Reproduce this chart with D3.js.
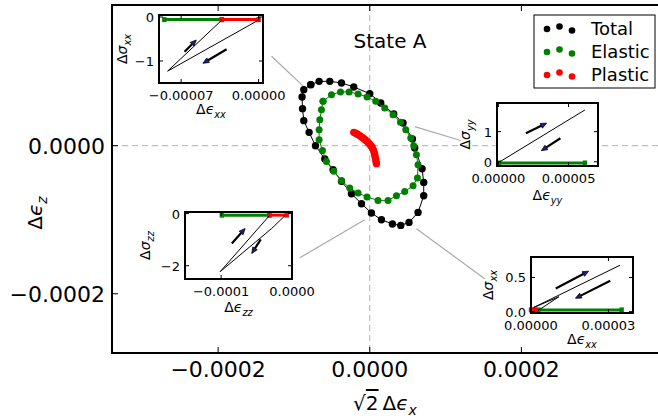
<!DOCTYPE html>
<html lang="en">
<head>
<meta charset="utf-8">
<title>State A strain ellipse</title>
<script src="https://d3js.org/d3.v7.min.js"></script>
<style>
  body { margin: 0; background: #fff; }
  text { font-family: "DejaVu Sans", sans-serif; }
</style>
</head>
<body>
<script>

// all strain values below are in units of 1e-6
const U = 1e-6;

// main plot: total / elastic / plastic strain paths
const totalX = [-77.8, -66.8, -52.7, -37.3, -21.1, 0, 14.5, 31.6, 43.9, 56.3, 59.3, 69.0, 71.2, 71.2, 63.7, 51.8, 40.9, 29.9, 15.4, 2.2, -10.9, -24.1, -37.3, -48.4, -59.3, -71.6, -80.0, -87.0, -88.7, -89.3, -87.0, -77.8];
const totalY = [82.4, 86.9, 86.9, 84.7, 79.3, 70.3, 57.7, 42.8, 30.7, 9.1, -3.1, -31.1, -49.6, -67.6, -90.1, -103.6, -107.7, -105.8, -100.0, -90.9, -78.4, -64.9, -48.2, -32.4, -18.0, 0, 18.0, 33.8, 50.0, 65.8, 75.7, 82.4];

const elasticX = [-61.6, -50.5, -38.6, -27.3, -15.4, -3.6, 7.9, 19.8, 30.7, 40.5, 47.5, 54.1, 58.0, 61.6, 63.7, 62.9, 57.1, 46.1, 35.2, 24.1, 10.9, -3.6, -15.4, -26.4, -37.3, -47.5, -57.1, -62.4, -66.8, -66.8, -65.9, -63.7, -61.6];
const elasticY = [59.9, 68.9, 72.6, 72.6, 69.9, 65.8, 59.9, 50.9, 41.9, 31.5, 21.6, 10.4, 0, -12.2, -25.7, -43.6, -54.1, -61.8, -67.6, -73.9, -73.9, -69.3, -63.9, -57.2, -46.9, -34.7, -21.2, -6.4, 8.1, 21.6, 35.1, 48.6, 59.9];

const plasticX = [-21.1, -19.0, -16.9, -14.8, -12.7, -10.6, -8.5, -6.2, -4.0, -1.9, 0.0, 1.8, 3.4, 4.7, 5.6, 6.4, 7.0, 7.6, 8.2, 8.8];
const plasticY = [18.0, 17.0, 15.8, 14.6, 13.2, 11.6, 10.0, 8.1, 6.2, 4.1, 1.9, -0.4, -2.8, -5.6, -8.6, -11.6, -14.6, -17.8, -21.0, -24.3];

const mainXTicks = [-0.0002, 0, 0.0002];
const mainXTickLabels = ["\u22120.0002", "0.0000", "0.0002"];
const mainYTicks = [-0.0002, 0];
const mainYTickLabels = ["\u22120.0002", "0.0000"];

const legendNames = ["Total", "Elastic", "Plastic"];
const legendColors = ["#000000", "#008000", "#ff0000"];

// grey connector lines (main-plot strain units, 1e-6): [x0, y0, x1, y1]
const connectors = [
    [-129.6, 120.7, -85.7, 78.4],
    [59.3, 25.7, 120.0, 7.0],
    [-92.3, -151.4, -6.6, -100.0],
    [61.6, -112.2, 151.6, -179.7]
];

// inset 1: sigma_xx vs eps_xx (top left)
const in1BlackX = [0.0, -0.0000822, -0.0000332];
const in1BlackY = [-0.07, -1.23, -0.07];
const in1GreenX = [-0.0000852, -0.0000332];
const in1RedX = [-0.0000332, 0.0];
const in1LevelY = -0.06;
const in1Arrows = [[-0.0000669, -0.789, -0.0000563, -0.523], [-0.0000289, -0.734, -0.0000503, -1.052]];

// inset 2: sigma_yy vs eps_yy (right)
const in2BlackX = [0.000001, 0.0000617];
const in2BlackY = [0.0, 1.72];
const in2GreenX = [0.0000005, 0.0000617];
const in2RedX = [];
const in2LevelY = -0.04;
const in2Arrows = [[0.0000196, 0.947, 0.0000344, 1.28], [0.0000442, 0.78, 0.0000306, 0.367]];

// inset 3: sigma_zz vs eps_zz (lower left)
const in3BlackX = [-0.0000319, -0.0001014, -0.0000286, -0.0000099];
const in3BlackY = [-0.08, -2.23, -0.57, -0.08];
const in3GreenX = [-0.000099, -0.0000319];
const in3RedX = [-0.0000319, -0.0000075];
const in3LevelY = -0.06;
const in3Arrows = [[-0.0000849, -1.145, -0.0000662, -0.573], [-0.0000441, -0.99, -0.0000568, -1.53]];

// inset 4: sigma_xx vs eps_xx (lower right)
const in4BlackX = [0.0000027, 0.0000108, 0.000001, 0.0000345];
const in4BlackY = [0.015, 0.218, 0.06, 0.68];
const in4GreenX = [0.0000028, 0.0000351];
const in4RedX = [0.0, 0.0000015];
const in4LevelY = 0.025;
const in4Arrows = [[0.00000958, 0.34, 0.0000223, 0.592], [0.0000307, 0.451, 0.0000172, 0.195]];

const W = 658, H = 419;

const svg = d3.select("body")
    .append("svg")
    .attr("width", W)
    .attr("height", H);

// main scales
const x = d3.scaleLinear().domain([-0.00034, 0.00040]).range([112, 673]);
const y = d3.scaleLinear().domain([-0.00028, 0.00019]).range([353, 5]);

// dashed zero lines
svg.append("line")
    .attr("x1", x(0)).attr("x2", x(0))
    .attr("y1", y.range()[1]).attr("y2", y.range()[0])
    .attr("stroke", "#b0b0b0").attr("stroke-width", 1).attr("stroke-dasharray", "6,4");
svg.append("line")
    .attr("x1", x.range()[0]).attr("x2", x.range()[1])
    .attr("y1", y(0)).attr("y2", y(0))
    .attr("stroke", "#b0b0b0").attr("stroke-width", 1).attr("stroke-dasharray", "6,4");

// connector lines
svg.selectAll(".conn")
    .data(connectors)
    .enter()
    .append("line")
    .attr("x1", d => x(d[0] * U)).attr("y1", d => y(d[1] * U))
    .attr("x2", d => x(d[2] * U)).attr("y2", d => y(d[3] * U))
    .attr("stroke", "#aaaaaa").attr("stroke-width", 1.2);

// strain paths
function series(xs, ys, color, r) {
    const pts = xs.map((v, i) => [v * U, ys[i] * U]);
    svg.append("path")
        .datum(pts)
        .attr("d", d3.line().x(d => x(d[0])).y(d => y(d[1])))
        .attr("fill", "none")
        .attr("stroke", color)
        .attr("stroke-width", 1);
    svg.append("g")
        .selectAll("circle")
        .data(pts)
        .enter()
        .append("circle")
        .attr("cx", d => x(d[0]))
        .attr("cy", d => y(d[1]))
        .attr("r", r)
        .attr("fill", color);
}
series(totalX, totalY, "#000000", 3.7);
series(elasticX, elasticY, "#008000", 3.5);
series(plasticX, plasticY, "#ff0000", 3.7);

// main frame + ticks
svg.append("rect")
    .attr("x", 112).attr("y", 5)
    .attr("width", 673 - 112).attr("height", 353 - 5)
    .attr("fill", "none").attr("stroke", "#000").attr("stroke-width", 2);

mainXTicks.forEach(function (t, i) {
    svg.append("line").attr("x1", x(t)).attr("x2", x(t)).attr("y1", 353).attr("y2", 347).attr("stroke", "#000");
    svg.append("line").attr("x1", x(t)).attr("x2", x(t)).attr("y1", 5).attr("y2", 11).attr("stroke", "#000");
    svg.append("text")
        .attr("x", x(t)).attr("y", 377)
        .attr("text-anchor", "middle")
        .attr("font-size", 22)
        .text(mainXTickLabels[i]);
});
mainYTicks.forEach(function (t, i) {
    svg.append("line").attr("x1", 112).attr("x2", 118).attr("y1", y(t)).attr("y2", y(t)).attr("stroke", "#000");
    svg.append("text")
        .attr("x", 105).attr("y", y(t) + 8)
        .attr("text-anchor", "end")
        .attr("font-size", 22)
        .text(mainYTickLabels[i]);
});

// math-ish label: parts = [[text, kind]], kind n = normal, i = italic, s = italic subscript
function mathText(g, parts, size) {
    const t = g.append("text").attr("font-size", size);
    parts.forEach(function (p) {
        const ts = t.append("tspan").text(p[0]);
        if (p[1] === "i") ts.attr("font-style", "italic");
        if (p[1] === "s") {
            ts.attr("font-style", "italic").attr("font-size", size * 0.7).attr("dy", size * 0.25);
        }
        if (p[1] === "o") ts.style("text-decoration", "overline");
    });
    return t;
}

// axis labels
mathText(svg, [["\u221a", "n"], ["2", "o"], ["\u2009\u0394", "n"], ["\u03f5", "i"], ["x", "s"]], 20)
    .attr("x", 385).attr("y", 410).attr("text-anchor", "middle");
mathText(svg, [["\u0394", "n"], ["\u03f5", "i"], ["z", "s"]], 20)
    .attr("text-anchor", "middle")
    .attr("transform", "translate(42,213) rotate(-90)");

svg.append("text")
    .attr("x", 390).attr("y", 48)
    .attr("text-anchor", "middle")
    .attr("font-size", 20)
    .text("State A");

// legend
const leg = svg.append("g");
leg.append("rect")
    .attr("x", 534).attr("y", 15).attr("width", 121).attr("height", 73)
    .attr("fill", "#fff").attr("stroke", "#000").attr("stroke-width", 1);
const dotOffsets = [1, -1.5, 2.5];
legendNames.forEach(function (name, i) {
    const cy = 28 + i * 23;
    [547, 559.5, 572].forEach(function (cx, j) {
        leg.append("circle").attr("cx", cx).attr("cy", cy + dotOffsets[j]).attr("r", 3.3).attr("fill", legendColors[i]);
    });
    leg.append("text")
        .attr("x", 591).attr("y", cy + 6.5)
        .attr("font-size", 18)
        .text(name);
});

// insets
function inset(cfg) {
    const g = svg.append("g");
    const ix = d3.scaleLinear().domain(cfg.xDomain).range([cfg.box[0], cfg.box[2]]);
    const iy = d3.scaleLinear().domain(cfg.yDomain).range([cfg.box[3], cfg.box[1]]);
    g.append("rect")
        .attr("x", cfg.box[0]).attr("y", cfg.box[1])
        .attr("width", cfg.box[2] - cfg.box[0]).attr("height", cfg.box[3] - cfg.box[1])
        .attr("fill", "#fff");

    const line = d3.line().x(d => ix(d[0])).y(d => iy(d[1]));
    function level(xs, color) {
        if (!xs.length) return;
        const pts = xs.map(v => [v, cfg.levelY]);
        g.append("path").datum(pts).attr("d", line)
            .attr("fill", "none").attr("stroke", color).attr("stroke-width", 3);
        g.selectAll(null).data(pts).enter().append("rect")
            .attr("x", d => ix(d[0]) - 2.2).attr("y", d => iy(d[1]) - 2.5)
            .attr("width", 4.4).attr("height", 5)
            .attr("fill", color);
    }
    level(cfg.greenX, "#008000");
    level(cfg.redX, "#ff0000");

    g.append("path")
        .datum(cfg.blackX.map((v, i) => [v, cfg.blackY[i]]))
        .attr("d", line)
        .attr("fill", "none").attr("stroke", "#000").attr("stroke-width", 1);

    cfg.arrows.forEach(function (a) {
        const x0 = ix(a[0]), y0 = iy(a[1]), x1 = ix(a[2]), y1 = iy(a[3]);
        const ang = Math.atan2(y1 - y0, x1 - x0);
        const hl = 6, hw = 2.6;
        const bx = x1 - hl * Math.cos(ang), by = y1 - hl * Math.sin(ang);
        g.append("line").attr("x1", x0).attr("y1", y0).attr("x2", bx).attr("y2", by)
            .attr("stroke", "#000").attr("stroke-width", 2.2);
        const px = -Math.sin(ang) * hw, py = Math.cos(ang) * hw;
        g.append("polygon")
            .attr("points", [[x1, y1], [bx + px, by + py], [bx - px, by - py]].map(p => p.join(",")).join(" "))
            .attr("fill", "#1c1c8c").attr("stroke", "#000").attr("stroke-width", 0.8);
    });

    g.append("rect")
        .attr("x", cfg.box[0]).attr("y", cfg.box[1])
        .attr("width", cfg.box[2] - cfg.box[0]).attr("height", cfg.box[3] - cfg.box[1])
        .attr("fill", "none").attr("stroke", "#000").attr("stroke-width", 2);

    cfg.xTicks.forEach(function (t, i) {
        g.append("line").attr("x1", ix(t)).attr("x2", ix(t)).attr("y1", cfg.box[3]).attr("y2", cfg.box[3] - 4).attr("stroke", "#000");
        g.append("line").attr("x1", ix(t)).attr("x2", ix(t)).attr("y1", cfg.box[1]).attr("y2", cfg.box[1] + 4).attr("stroke", "#000");
        g.append("text").attr("x", ix(t)).attr("y", cfg.box[3] + 17)
            .attr("text-anchor", "middle").attr("font-size", 13).text(cfg.xTickLabels[i]);
    });
    cfg.yTicks.forEach(function (t, i) {
        g.append("line").attr("x1", cfg.box[0]).attr("x2", cfg.box[0] + 4).attr("y1", iy(t)).attr("y2", iy(t)).attr("stroke", "#000");
        g.append("line").attr("x1", cfg.box[2]).attr("x2", cfg.box[2] - 4).attr("y1", iy(t)).attr("y2", iy(t)).attr("stroke", "#000");
        g.append("text").attr("x", cfg.box[0] - 5).attr("y", iy(t) + 5)
            .attr("text-anchor", "end").attr("font-size", 13).text(cfg.yTickLabels[i]);
    });

    mathText(g, [["\u0394", "n"], ["\u03f5", "i"], [cfg.sub, "s"]], 14)
        .attr("x", (cfg.box[0] + cfg.box[2]) / 2).attr("y", cfg.box[3] + cfg.xLabelDy)
        .attr("text-anchor", "middle");
    mathText(g, [["\u0394", "n"], ["\u03c3", "i"], [cfg.sub, "s"]], 14)
        .attr("text-anchor", "middle")
        .attr("transform", "translate(" + cfg.yLabelX + "," + (cfg.box[1] + cfg.box[3]) / 2 + ") rotate(-90)");
}

inset({
    box: [159, 15, 263, 83], xDomain: [-0.00009, 0.000004], yDomain: [-1.5, 0.045],
    blackX: in1BlackX, blackY: in1BlackY, greenX: in1GreenX, redX: in1RedX, levelY: in1LevelY, arrows: in1Arrows,
    xTicks: [-0.00007, 0], xTickLabels: ["\u22120.00007", "0.00000"],
    yTicks: [-1, 0], yTickLabels: ["\u22121", "0"],
    sub: "xx", xLabelDy: 31, yLabelX: 127
});
inset({
    box: [497, 103, 598, 166], xDomain: [-0.000001, 0.000071], yDomain: [-0.14, 1.95],
    blackX: in2BlackX, blackY: in2BlackY, greenX: in2GreenX, redX: in2RedX, levelY: in2LevelY, arrows: in2Arrows,
    xTicks: [0, 0.00005], xTickLabels: ["0.00000", "0.00005"],
    yTicks: [0, 1], yTickLabels: ["0", "1"],
    sub: "yy", xLabelDy: 34, yLabelX: 470
});
inset({
    box: [185, 212, 292, 279], xDomain: [-0.000151, 0.0], yDomain: [-2.51, 0.06],
    blackX: in3BlackX, blackY: in3BlackY, greenX: in3GreenX, redX: in3RedX, levelY: in3LevelY, arrows: in3Arrows,
    xTicks: [-0.0001, 0], xTickLabels: ["\u22120.0001", "0.0000"],
    yTicks: [-2, 0], yTickLabels: ["\u22122", "0"],
    sub: "zz", xLabelDy: 33, yLabelX: 150
});
inset({
    box: [531, 257, 633, 313], xDomain: [0, 0.0000395], yDomain: [-0.02, 0.80],
    blackX: in4BlackX, blackY: in4BlackY, greenX: in4GreenX, redX: in4RedX, levelY: in4LevelY, arrows: in4Arrows,
    xTicks: [0, 0.00003], xTickLabels: ["0.00000", "0.00003"],
    yTicks: [0, 0.5], yTickLabels: ["0.0", "0.5"],
    sub: "xx", xLabelDy: 31, yLabelX: 493
});

</script>
</body>
</html>
